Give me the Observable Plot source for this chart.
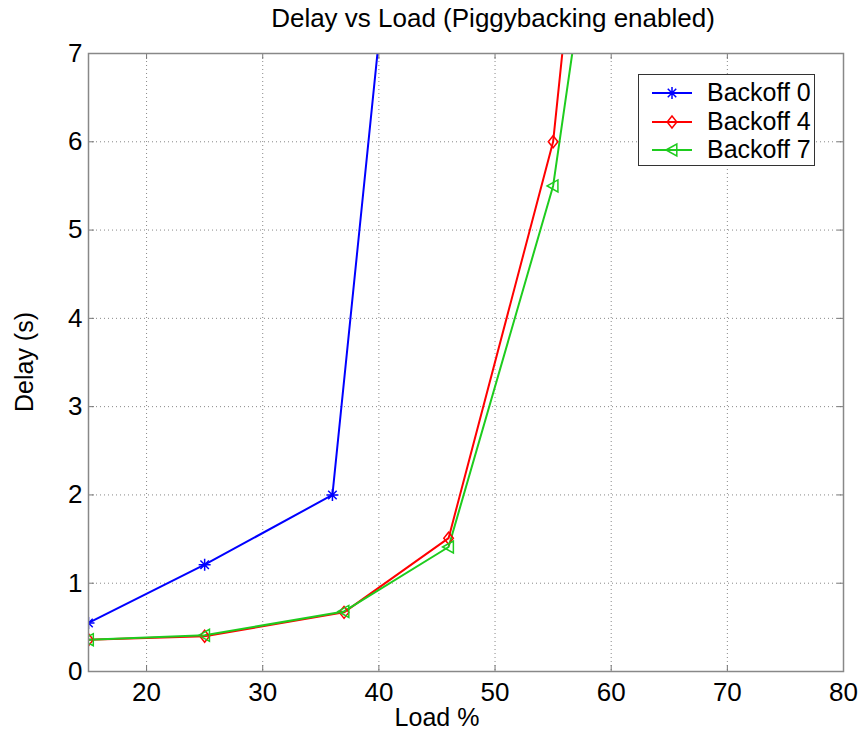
<!DOCTYPE html>
<html><head><meta charset="utf-8">
<script src="https://cdn.jsdelivr.net/npm/d3@7"></script>
<script src="https://cdn.jsdelivr.net/npm/@observablehq/plot@0.6"></script>
<style>
body{margin:0;background:#fff;font-family:"Liberation Sans",Arial,Helvetica,sans-serif;}
#wrap{position:relative;width:860px;height:734px;overflow:hidden;}
.lbl{position:absolute;color:#000;white-space:nowrap;line-height:1;}
#legend{position:absolute;left:638px;top:74px;width:175px;height:90px;border:1px solid #333;background:#fff;}
#legend .row{position:absolute;left:0;width:175px;height:28px;}
#legend svg{position:absolute;left:0;top:0;}
#legend .txt{position:absolute;left:68px;top:1px;font-size:25px;line-height:1;white-space:nowrap;}
</style></head><body><div id="wrap"></div>
<script>
const title = "Delay vs Load (Piggybacking enabled)";
const xLabel = "Load %";
const yLabel = "Delay (s)";
const xTicks = [20, 30, 40, 50, 60, 70, 80];
const yTicks = [0, 1, 2, 3, 4, 5, 6, 7];
const seriesNames = ["Backoff 0", "Backoff 4", "Backoff 7"];
const seriesColors = ["#0000ff", "#ff0000", "#1ecc1e"];
const load0 = [15, 25, 36, 46];
const delay0 = [0.55, 1.21, 2.0, 14.9];
const load4 = [15, 25, 37, 46, 55, 64];
const delay4 = [0.36, 0.40, 0.67, 1.51, 6.0, 17.4];
const load7 = [15, 25, 37, 46, 55, 64];
const delay7 = [0.36, 0.41, 0.68, 1.41, 5.5, 13.7];

// marker shapes (MATLAB-like *, diamond, <)
const star8 = {draw(ctx, size){const r=Math.sqrt(size/Math.PI), d=r*Math.SQRT1_2;
  ctx.moveTo(-r,0);ctx.lineTo(r,0);ctx.moveTo(0,-r);ctx.lineTo(0,r);
  ctx.moveTo(-d,-d);ctx.lineTo(d,d);ctx.moveTo(-d,d);ctx.lineTo(d,-d);}};
const diamond = {draw(ctx, size){const r=Math.sqrt(size/Math.PI), w=r*0.8;
  ctx.moveTo(0,-r);ctx.lineTo(w,0);ctx.lineTo(0,r);ctx.lineTo(-w,0);ctx.closePath();}};
const triLeft = {draw(ctx, size){const r=Math.sqrt(size/Math.PI);
  ctx.moveTo(-r,0);ctx.lineTo(r*0.8,-r);ctx.lineTo(r*0.8,r);ctx.closePath();}};
const symbols = [star8, diamond, triLeft];

const loads = [load0, load4, load7];
const delays = [delay0, delay4, delay7];
const rows = seriesNames.flatMap((s, k) => loads[k].map((x, i) => ({series: s, load: x, delay: delays[k][i]})));

const W = 860, H = 734, mT = 53, mB = 63, mL = 88, mR = 17;
const fw = W - mL - mR, fh = H - mT - mB;
const grid = {stroke: "#888", strokeOpacity: 1, strokeWidth: 1, strokeDasharray: "1,3"};
const fmt = d3.format("d");

const chart = Plot.plot({
  width: W, height: H, marginTop: mT, marginBottom: mB, marginLeft: mL, marginRight: mR,
  style: {fontFamily: "'Liberation Sans', Arial, sans-serif", background: "white", color: "black"},
  x: {domain: [15, 80]},
  y: {domain: [0, 7]},
  color: {domain: seriesNames, range: seriesColors},
  marks: [
    Plot.gridX({ticks: xTicks.filter(d => d < 80), ...grid}),
    Plot.gridY({ticks: yTicks.filter(d => d > 0 && d < 7), ...grid}),
    Plot.tickX(xTicks, {x: d => d, stroke: "#777", insetTop: fh - 6}),
    Plot.tickX(xTicks, {x: d => d, stroke: "#777", insetBottom: fh - 6}),
    Plot.tickY(yTicks, {y: d => d, stroke: "#777", insetRight: fw - 6}),
    Plot.tickY(yTicks, {y: d => d, stroke: "#777", insetLeft: fw - 6}),
    Plot.axisX({ticks: xTicks, tickFormat: fmt, tickSize: 0, tickPadding: 11, fontSize: 26, label: null}),
    Plot.axisY({ticks: yTicks, tickFormat: fmt, tickSize: 0, tickPadding: 6, fontSize: 26, label: null}),
    Plot.line(rows, {x: "load", y: "delay", z: "series", stroke: "series", strokeWidth: 2, clip: true}),
    ...seriesNames.map((s, k) => Plot.dot(rows.filter(r => r.series === s), {
      x: "load", y: "delay", symbol: symbols[k], r: 6, stroke: seriesColors[k], fill: "none", strokeWidth: 1.5, clip: true
    })),
    Plot.frame({stroke: "#888", strokeWidth: 1.5})
  ]
});

const wrap = document.getElementById("wrap");
wrap.appendChild(chart);

function addLabel(text, css) {
  const d = document.createElement("div");
  d.className = "lbl";
  d.textContent = text;
  Object.assign(d.style, css);
  wrap.appendChild(d);
}
addLabel(title, {left: "493px", top: "5px", fontSize: "26px", transform: "translateX(-50%)"});
addLabel(xLabel, {left: "437px", top: "705px", fontSize: "25px", transform: "translateX(-50%)"});
addLabel(yLabel, {left: "24px", top: "362px", fontSize: "25px", transform: "translate(-50%,-50%) rotate(-90deg)"});

// legend
const leg = document.createElement("div");
leg.id = "legend";
wrap.appendChild(leg);
const rowTops = [4, 33, 61];
seriesNames.forEach((s, k) => {
  const row = document.createElement("div");
  row.className = "row";
  row.style.top = rowTops[k] + "px";
  const svg = d3.create("svg").attr("width", 60).attr("height", 28);
  svg.append("line").attr("x1", 13).attr("x2", 53).attr("y1", 14).attr("y2", 14)
    .attr("stroke", seriesColors[k]).attr("stroke-width", 2);
  svg.append("path").attr("d", d3.symbol(symbols[k], Math.PI * 6 * 6)())
    .attr("transform", "translate(33,14)").attr("fill", "none")
    .attr("stroke", seriesColors[k]).attr("stroke-width", 1.5);
  row.appendChild(svg.node());
  const t = document.createElement("div");
  t.className = "txt";
  t.textContent = s;
  row.appendChild(t);
  leg.appendChild(row);
});
</script></body></html>
